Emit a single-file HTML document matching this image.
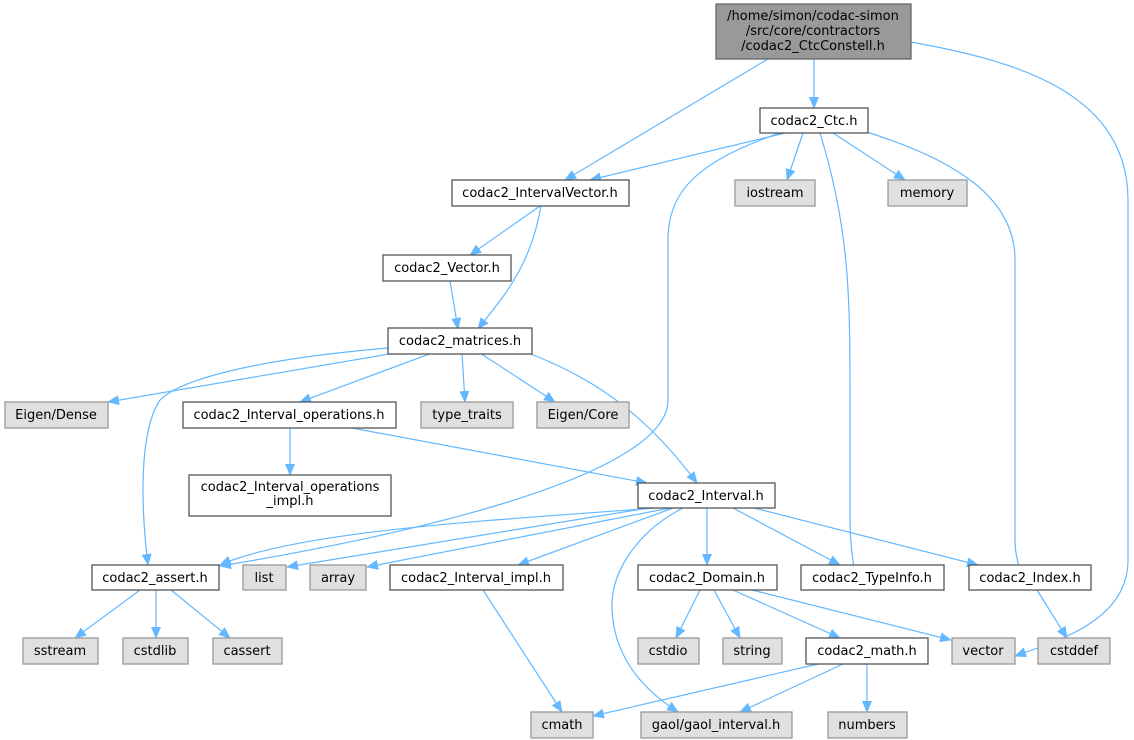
<!DOCTYPE html>
<html><head><meta charset="utf-8"><style>
html,body{margin:0;padding:0;background:#fff;}
svg{display:block;}
text{font-family:"DejaVu Sans","Liberation Sans",sans-serif;font-size:13px;fill:#000;}
.n{fill:#fff;stroke:#555;stroke-width:1.3;}
.g{fill:#e0e0e0;stroke:#999;stroke-width:1.3;}
.e{fill:none;stroke:#63b8ff;stroke-width:1.2;marker-end:url(#a);}
</style></head><body>
<svg width="1134" height="740" viewBox="0 0 1134 740" xmlns="http://www.w3.org/2000/svg">
<defs><marker id="a" markerWidth="12" markerHeight="10" refX="11" refY="5" orient="auto" markerUnits="userSpaceOnUse"><path d="M0,0 L12,5 L0,10 z" fill="#63b8ff"/></marker></defs>
<g>
<path class="e" d="M768,59 L565,180"/>
<path class="e" d="M814,59 L814,108"/>
<path class="e" d="M911,42 C1010,60 1128,90 1128,200 L1128,560 C1128,620 1060,640 1015,656"/>
<path class="e" d="M785,133 L590,180"/>
<path class="e" d="M780,133 C700,160 668,190 668,240 L668,400 C668,480 380,540 220,566"/>
<path class="e" d="M803,133 L787,180"/>
<path class="e" d="M833,133 L905,180"/>
<path class="e" d="M820,133 C850,230 850,300 850,400 L850,520 C850,550 855,570 856,585"/>
<path class="e" d="M860,130 C960,160 1015,200 1015,260 L1015,540 C1015,560 1022,575 1026,585"/>
<path class="e" d="M540,206 L470,255"/>
<path class="e" d="M541,206 C530,270 500,300 478,329"/>
<path class="e" d="M450,281 L458,329"/>
<path class="e" d="M395,353 L108,402"/>
<path class="e" d="M388,348 C250,360 180,380 160,400 C140,430 140,500 148,565"/>
<path class="e" d="M432,353 L300,402"/>
<path class="e" d="M462,353 L465,402"/>
<path class="e" d="M480,353 L555,402"/>
<path class="e" d="M528,353 C600,380 650,420 697,483"/>
<path class="e" d="M352,428 L647,483"/>
<path class="e" d="M290,428 L290,475"/>
<path class="e" d="M655,508 C500,520 300,530 220,565"/>
<path class="e" d="M648,508 L287,567"/>
<path class="e" d="M670,508 L367,567"/>
<path class="e" d="M673,508 L518,565"/>
<path class="e" d="M683,508 C640,530 610,570 612,610 C615,670 660,700 678,712"/>
<path class="e" d="M707,508 L707,565"/>
<path class="e" d="M733,508 L840,565"/>
<path class="e" d="M754,508 L978,565"/>
<path class="e" d="M483,590 L562,712"/>
<path class="e" d="M140,590 L75,638"/>
<path class="e" d="M156,590 L156,638"/>
<path class="e" d="M171,590 L230,638"/>
<path class="e" d="M700,590 L676,638"/>
<path class="e" d="M714,590 L740,638"/>
<path class="e" d="M733,590 L840,638"/>
<path class="e" d="M752,590 L951,640"/>
<path class="e" d="M1037,590 L1067,638"/>
<path class="e" d="M818,664 L593,716"/>
<path class="e" d="M843,664 L740,712"/>
<path class="e" d="M867,664 L867,712"/>
</g>
<g>
<rect x="716" y="4" width="195" height="55" fill="#999" stroke="#666" stroke-width="1.3"/>
<text x="813" y="20" text-anchor="middle">/home/simon/codac-simon</text>
<text x="813" y="35" text-anchor="middle">/src/core/contractors</text>
<text x="813" y="50" text-anchor="middle">/codac2_CtcConstell.h</text>

<rect class="n" x="760" y="108" width="108" height="25"/><text x="814" y="125" text-anchor="middle">codac2_Ctc.h</text>
<rect class="n" x="452" y="180" width="177" height="26"/><text x="540" y="197" text-anchor="middle">codac2_IntervalVector.h</text>
<rect class="g" x="735" y="180" width="80" height="26"/><text x="775" y="197" text-anchor="middle">iostream</text>
<rect class="g" x="888" y="180" width="79" height="26"/><text x="927" y="197" text-anchor="middle">memory</text>
<rect class="n" x="383" y="255" width="128" height="26"/><text x="447" y="272" text-anchor="middle">codac2_Vector.h</text>
<rect class="n" x="388" y="328" width="144" height="26"/><text x="460" y="345" text-anchor="middle">codac2_matrices.h</text>

<rect class="g" x="5" y="402" width="103" height="26"/><text x="56" y="419" text-anchor="middle">Eigen/Dense</text>
<rect class="n" x="183" y="402" width="213" height="26"/><text x="289" y="419" text-anchor="middle">codac2_Interval_operations.h</text>
<rect class="g" x="421" y="402" width="92" height="26"/><text x="467" y="419" text-anchor="middle">type_traits</text>
<rect class="g" x="537" y="402" width="92" height="26"/><text x="583" y="419" text-anchor="middle">Eigen/Core</text>

<rect class="n" x="189" y="475" width="202" height="41"/>
<text x="290" y="491" text-anchor="middle">codac2_Interval_operations</text>
<text x="290" y="505" text-anchor="middle">_impl.h</text>
<rect class="n" x="638" y="483" width="137" height="25"/><text x="706" y="500" text-anchor="middle">codac2_Interval.h</text>

<rect class="n" x="92" y="565" width="127" height="25"/><text x="155" y="582" text-anchor="middle">codac2_assert.h</text>
<rect class="g" x="243" y="565" width="43" height="25"/><text x="264" y="582" text-anchor="middle">list</text>
<rect class="g" x="310" y="565" width="56" height="25"/><text x="338" y="582" text-anchor="middle">array</text>
<rect class="n" x="390" y="565" width="173" height="25"/><text x="476" y="582" text-anchor="middle">codac2_Interval_impl.h</text>
<rect class="n" x="638" y="565" width="139" height="25"/><text x="707" y="582" text-anchor="middle">codac2_Domain.h</text>
<rect class="n" x="801" y="565" width="143" height="25"/><text x="872" y="582" text-anchor="middle">codac2_TypeInfo.h</text>
<rect class="n" x="969" y="565" width="122" height="25"/><text x="1030" y="582" text-anchor="middle">codac2_Index.h</text>

<rect class="g" x="23" y="638" width="75" height="26"/><text x="60" y="655" text-anchor="middle">sstream</text>
<rect class="g" x="123" y="638" width="65" height="26"/><text x="155" y="655" text-anchor="middle">cstdlib</text>
<rect class="g" x="213" y="638" width="69" height="26"/><text x="247" y="655" text-anchor="middle">cassert</text>
<rect class="g" x="638" y="638" width="61" height="26"/><text x="668" y="655" text-anchor="middle">cstdio</text>
<rect class="g" x="723" y="638" width="59" height="26"/><text x="752" y="655" text-anchor="middle">string</text>
<rect class="n" x="806" y="638" width="122" height="26"/><text x="867" y="655" text-anchor="middle">codac2_math.h</text>
<rect class="g" x="952" y="638" width="63" height="26"/><text x="983" y="655" text-anchor="middle">vector</text>
<rect class="g" x="1038" y="638" width="72" height="26"/><text x="1074" y="655" text-anchor="middle">cstddef</text>

<rect class="g" x="531" y="712" width="62" height="26"/><text x="562" y="729" text-anchor="middle">cmath</text>
<rect class="g" x="641" y="712" width="151" height="26"/><text x="716" y="729" text-anchor="middle">gaol/gaol_interval.h</text>
<rect class="g" x="828" y="712" width="79" height="26"/><text x="867" y="729" text-anchor="middle">numbers</text>
</g>
</svg>
</body></html>
